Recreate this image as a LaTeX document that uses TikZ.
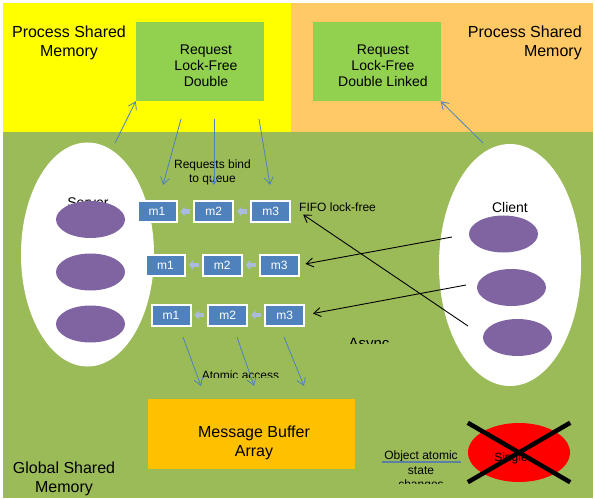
\documentclass[tikz,border=0pt]{standalone}
\usepackage{fontspec}
\setmainfont{Liberation Sans}
\usetikzlibrary{arrows.meta,shapes.geometric}
\definecolor{procyellow}{HTML}{FFFF00}
\definecolor{procorange}{HTML}{FFC966}
\definecolor{globgreen}{HTML}{9BBB59}
\definecolor{listgreen}{HTML}{92D050}
\definecolor{msgblue}{HTML}{4F81BD}
\definecolor{thrpurple}{HTML}{8064A2}
\definecolor{bufamber}{HTML}{FFC000}
\definecolor{qarrowblue}{HTML}{A9BCDE}
\definecolor{barblue}{HTML}{5A7FA8}
\tikzset{
	msg/.style={draw=white, line width=2pt, fill=msgblue, text=white, minimum width=39pt, minimum height=21pt, inner sep=0pt, font=\fontsize{12}{14}\selectfont},
	thread/.style={ellipse, fill=thrpurple, minimum width=69pt, minimum height=37pt, inner sep=0pt},
	proc/.style={ellipse, fill=white, inner sep=0pt},
	listbox/.style={fill=listgreen, minimum width=128pt, minimum height=79pt, inner sep=0pt},
	bigtxt/.style={font=\fontsize{16}{19}\selectfont, align=center, inner sep=0pt},
	midtxt/.style={font=\fontsize{14}{16}\selectfont, align=center, inner sep=0pt},
	smalltxt/.style={font=\fontsize{12}{14.5}\selectfont, align=center, inner sep=0pt},
	blueline/.style={draw=msgblue, line width=0.8pt},
	blackline/.style={draw=black, line width=0.9pt},
	qarrow/.style={draw=qarrowblue, line width=4.5pt, -{Triangle[length=4pt,width=9pt]}, shorten <=3pt, shorten >=3pt},
	cross/.style={draw=black, line width=4.5pt}
}
\begin{document}
\begin{tikzpicture}[x=1pt, y=-1pt, >={Straight Barb[length=7pt,width=9pt]}]
\useasboundingbox (0,0) rectangle (595,500);
%process and global memory
\fill [procyellow] (3,3) rectangle (291,132);
\fill [procorange] (291,3) rectangle (593,132);
\fill [globgreen] (3,132) rectangle (593,498);
\node [bigtxt] (pshmL) at (69,43) {Process Shared\\Memory};
\node [bigtxt, align=right, anchor=east] (pshmR) at (582,43) {Process Shared\\Memory};
\node [bigtxt] (gshm) at (64,479) {Global Shared\\Memory};

\node [listbox] (reqL) at (200,61.5) {};
\node [midtxt] (reqLtxt) at (206,66) {Request\\Lock-Free\\Double};
\node [listbox] (reqR) at (376.5,61.5) {};
\node [midtxt] (reqRtxt) at (383,66) {Request\\Lock-Free\\Double Linked};

\node [proc, minimum width=133pt, minimum height=224pt] (server) at (87.5,254.5) {};
\node [proc, minimum width=142pt, minimum height=242pt] (client) at (510,265) {};
\node [midtxt] (servertxt) at (88,203) {Server};
\node [midtxt] (clienttxt) at (510,207) {Client};
\foreach \n/\y in {1/219.5, 2/272, 3/324}
	\node [thread] (srv\n) at (90.5,\y) {};
\foreach \n/\x/\y in {1/503.5/234, 2/511.5/287.5, 3/517.5/337.5}
	\node [thread] (cli\n) at (\x,\y) {};

\foreach \r/\x/\y in {1/157/211.5, 2/165.5/265, 3/171/315}
{
	\foreach \k in {1,2,3}
		\node [msg] (q\r-\k) at (\x+56.8*\k-56.8,\y) {m\k};
	\draw [qarrow] (q\r-2) -- (q\r-1);
	\draw [qarrow] (q\r-3) -- (q\r-2);
}
\node [smalltxt] (bindtxt) at (212.5,172.5) {Requests bind\\to queue};
\node [smalltxt, anchor=base west] (fifo) at (299,211.5) {FIFO lock-free};

\begin{scope}
	\clip (330,330) rectangle (410,343);
	\node [font=\fontsize{15}{18}\selectfont, anchor=base, inner sep=0pt] (async) at (369,348) {Async};
\end{scope}
\begin{scope}
	\clip (190,360) rectangle (290,377);
	\node [smalltxt, anchor=base] (atomic) at (240.5,379.6) {Atomic access};
\end{scope}

\node [fill=bufamber, minimum width=207pt, minimum height=70pt, inner sep=0pt] (buffer) at (251.5,434) {};
\node [bigtxt] (buftxt) at (254,443) {Message Buffer\\Array};

\begin{scope}
	\clip (370,440) rectangle (470,483);
	\node [smalltxt] (objtxt) at (421,471) {Object  atomic\\state\\changes};
\end{scope}
\draw [barblue, line width=2pt] (382,462) -- (461,462);

\node [ellipse, fill=red, minimum width=102pt, minimum height=59pt, inner sep=0pt] (single) at (519,452.5) {};
\node [smalltxt, anchor=base] (singletxt) at (511,461) {Single};
\draw [cross] (single.west |- single.north) -- (single.east |- single.south);
\draw [cross] (single.east |- single.north) -- (single.west |- single.south);

\coordinate (srvtop) at (115,143);
\coordinate (clitop) at (483,143);
\draw [blueline, ->] (srvtop) -- (reqL.south west);
\draw [blueline, ->] (clitop) -- (reqR.south east);
\foreach \n/\a/\b in {1/181/163, 2/214/214, 3/259/270}
{
	\coordinate (bind\n) at (\a,119);
	\coordinate (bound\n) at (\b,185);
	\draw [blueline, ->] (bind\n) -- (bound\n);
}
\foreach \n/\a/\b in {1/183/201, 2/237/254, 3/284/304}
{
	\coordinate (deq\n) at (\a,337);
	\coordinate (atom\n) at (\b,386);
	\draw [blueline, ->] (deq\n) -- (atom\n);
}

\coordinate (push1) at (452,237);
\coordinate (push2) at (466,285);
\coordinate (push3) at (468,326);
\draw [blackline, ->, shorten >=6pt] (push1) -- (q2-3.east);
\draw [blackline, ->, shorten >=8pt] (push2) -- (q3-3.east);
\draw [blackline, ->, shorten >=5pt] (push3) -- (fifo.south west);
\end{tikzpicture}
\end{document}
